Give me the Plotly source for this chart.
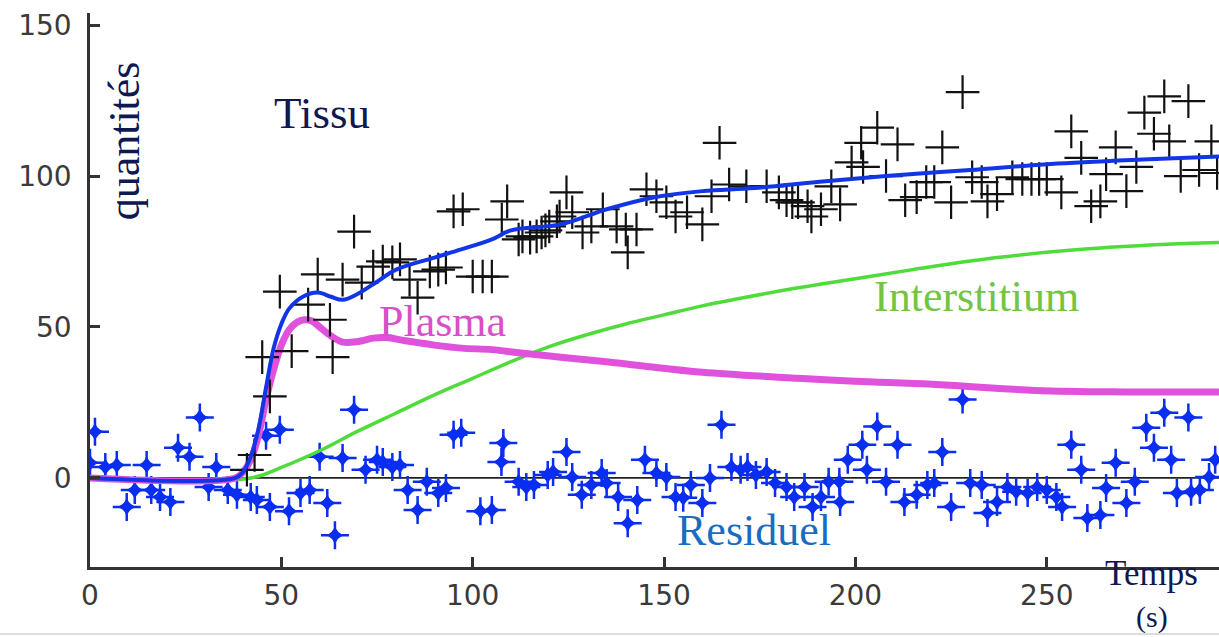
import plotly.graph_objects as go

# ---------------- data ----------------
# Tissu fit (blue curve)
fit_t = [0, 38, 40, 42, 44, 46, 48, 50, 52, 55.6, 59.5, 63, 66, 70, 75, 80, 90, 97, 105, 110, 123, 135, 147.5, 160, 173.6, 190, 208, 230, 251, 275, 295]
fit_y = [0, 0, 2, 7, 16, 30, 43, 51, 56, 60, 61.4, 60, 59, 61, 65, 69, 73, 75.7, 79, 82, 84, 89, 93, 95, 96, 98, 100, 102, 104, 105.5, 106.5]

# Plasma (magenta curve)
plasma_t = [0, 38, 40, 42, 44, 46, 48, 50, 52, 54, 56, 58, 60, 63, 66, 70, 74, 77.5, 82, 90, 97, 105, 112, 123, 135, 145, 160, 185, 200, 220, 247, 270, 295]
plasma_y = [0, 0, 2, 6, 14, 26, 36, 44, 49, 51.5, 52.4, 52, 50, 47, 45, 45.2, 46.3, 46.5, 45.5, 44, 43, 42.5, 41.5, 40, 38.5, 37, 35, 33, 32, 31, 29, 28.5, 28.5]

# Interstitium (green curve)
inter_t = [0, 42, 50, 60, 70, 80, 90, 100, 110, 120, 130, 140, 150, 160, 170, 185, 200, 215, 237, 260, 280, 295]
inter_y = [0, 0, 3.5, 9, 15.5, 21.5, 27.5, 33, 38.5, 43.5, 47.5, 51, 54, 57, 59.5, 63, 66, 69, 73, 75.8, 77.3, 78]

# Tissu measurements (black crosses)
tissu_t = [41, 43, 45, 47, 49.6, 52.7, 57, 59.5, 62.7, 63.4, 66, 69, 71, 74, 76.5, 79, 81, 83.5, 85.6,
           88.8, 91, 93, 95, 97.4, 100, 102.6, 105, 107.6, 109, 112, 113, 115, 116.7, 118, 119, 120,
           122, 122.7, 124.5, 126, 128.7, 131, 134, 137.6, 140, 140.5, 142.8, 145.4, 148, 150.6, 153,
           156, 160, 162.4, 164.5, 167, 171.5, 176.8, 180, 182, 183.5, 185, 187.5, 188.5, 191, 193.7,
           196, 199, 201.5, 202, 205.7, 208, 211, 213, 216, 218.5, 220.6, 222.7, 225, 228, 230.5, 233,
           234.5, 237, 241, 243.6, 246, 248, 250, 253.8, 256.4, 259, 261.6, 264, 265.5, 268, 270.8,
           273.4, 275.5, 278, 280.7, 282, 285, 287, 289.8, 293, 294.5]
tissu_y = [2.7, 7.6, 40, 27, 61.7, 42, 57.4, 67.4, 52.4, 40, 65.7, 81.6, 64.7, 70, 71.7, 71.4, 72.4, 65.7, 59.7,
           68.4, 69, 69.7, 88.3, 89, 66.7, 66.7, 66.7, 85.6, 91.6, 79, 80, 79.6, 80, 81.3, 82, 83.3,
           85, 86.6, 94.6, 88, 81.3, 83.3, 89, 83.3, 82.3, 74.7, 82.3, 95.6, 93.3, 91.3, 86.6,
           88, 84, 93.3, 111, 97.2, 96.6, 96.6, 94.6, 92, 91.3, 91.3, 90, 86.6, 89, 96.6,
           90.6, 104.5, 111, 103, 116, 100, 110.5, 92, 93, 98, 98, 109.5, 91.3, 127.8, 99.6, 98,
           91.6, 94, 99.6, 99, 99, 99, 99, 94.6, 114.8, 106, 90, 91.6, 100.6, 109.5, 95,
           103, 121, 114, 126.4, 111.5, 100, 124.8, 102, 111.5, 101]

# Residuel (blue stars)
res_t = [0, 1.3, 4, 7, 9.6, 11.7, 14.8, 16, 18.3, 21, 23, 26, 28.7, 31, 33, 36, 38.4, 42, 43.6, 46, 47,
         49.6, 52, 55, 57.4, 60, 62, 64, 66, 69, 72, 75, 76.5, 79, 81, 83, 85.6, 88, 91, 93, 95, 97,
         102, 105, 107.5, 108, 112, 114, 116, 119.6, 121, 124.5, 126, 128.5, 131, 133.7, 135, 138,
         140.5, 143, 145, 148, 150.6, 153, 155, 157, 160, 162, 165, 167.6, 170, 171.8, 174, 176.8,
         179, 182, 184, 186.7, 188.8, 191, 193, 195.8, 196, 198, 201.8, 203, 205.7, 208, 211, 212.8,
         216, 218.8, 220.6, 222.7, 225, 228, 230, 233, 234.5, 237, 239.7, 242, 245, 247.5, 250,
         252.5, 254, 256.4, 259, 260.6, 264, 265.5, 268, 270.8, 273, 276, 278, 280.7, 282.5, 284,
         287, 287.7, 290, 292.4, 294]
res_y = [5, 15.3, 3.6, 4.3, -9.6, -4, 4.3, -4, -6.3, -8, 10, 7, 20, -3, 3.6, -4, -5.6, -6.3, -7.3, 14, -9.6,
         16, -11, -5, -4, 7, -8.3, -19, 6.6, 22.6, 2.7, 6, 5.3, 3.6, 4.3, -4, -10.6, -1.3, -5, -3.3, 14.3, 15,
         -11, -10.6, 5.3, 11.6, -1.3, -3, -2.3, 1, 2, 8.6, 0.3, -5.6, -2.3, 1.6, -1.7, -6.3,
         -15, -7.3, 6, 1.6, 0.3, -6.3, -6.6, -2.3, -8.3, 0, 17.6, 3.6, 2.7, 3.6, 1, 2,
         -1.7, -3, -6.3, -3, -9.6, -6.3, -1.3, -1.3, -8, 6, 11, 2.7, 17, -1.3, 11, -8,
         -5.6, -2.3, -1.7, 8.6, -9.6, 26, -1.7, -2.3, -11.6, -8, -3, -4.6, -5, -3, -4,
         -6.3, -9.6, 11, 2.7, -13.3, -12.3, -3.3, 5, -8.3, -1.3, 16.6, 10, 21.6, 6, -5,
         20, -4.6, -4, 0.3, 6]

zero_t = [0, 295]
zero_y = [0, 0]

x_ticks = [0, 50, 100, 150, 200, 250]
y_ticks = [0, 50, 100, 150]

NAVY = "#0f1850"
SERIF = "Liberation Serif, Times New Roman, serif"
BLUE_STAR = "#0a2ef0"

fig = go.Figure()

fig.add_trace(go.Scatter(x=zero_t, y=zero_y, mode="lines",
                         line=dict(color="#222222", width=1.8), hoverinfo="skip"))
fig.add_trace(go.Scatter(x=res_t, y=res_y, mode="markers",
                         marker=dict(symbol="star-diamond", size=14, color=BLUE_STAR,
                                     line=dict(width=0))))
fig.add_trace(go.Scatter(x=res_t, y=res_y, mode="markers",
                         marker=dict(symbol="cross-thin-open", size=20, color=BLUE_STAR,
                                     line=dict(color=BLUE_STAR, width=2.5))))
fig.add_trace(go.Scatter(x=inter_t, y=inter_y, mode="lines", line_shape="spline",
                         line=dict(color="#4fdc3a", width=3.5)))
fig.add_trace(go.Scatter(x=plasma_t, y=plasma_y, mode="lines", line_shape="spline",
                         line=dict(color="#e052dc", width=7)))
fig.add_trace(go.Scatter(x=tissu_t, y=tissu_y, mode="markers",
                         marker=dict(symbol="cross-thin-open", size=24, color="#111111",
                                     line=dict(color="#111111", width=2.2))))
fig.add_trace(go.Scatter(x=fit_t, y=fit_y, mode="lines", line_shape="spline",
                         line=dict(color="#1236e6", width=4)))

tickfont = dict(family="DejaVu Sans, sans-serif", size=28, color="#3a3a3a")

fig.update_xaxes(range=[0, 295], tickvals=x_ticks, ticks="inside", ticklen=10, tickwidth=2.5,
                 tickcolor="#333", showline=True, linecolor="#333", linewidth=2.5,
                 showgrid=False, zeroline=False, tickfont=tickfont, ticklabelstandoff=2,
                 automargin=False)
fig.update_yaxes(range=[-29.5, 154], tickvals=y_ticks, ticks="inside", ticklen=10, tickwidth=2.5,
                 tickcolor="#333", showline=True, linecolor="#333", linewidth=2.5,
                 showgrid=False, zeroline=False, tickfont=tickfont, ticklabelstandoff=10,
                 automargin=False)

ann = [
    dict(text="Tissu", x=60.6, y=120.8, color=NAVY, size=45, angle=0),
    dict(text="quantités", x=8.9, y=111.5, color=NAVY, size=44, angle=-90),
    dict(text="Plasma", x=92.2, y=51.8, color="#d84fc8", size=44, angle=0),
    dict(text="Interstitium", x=231.6, y=60, color="#72c443", size=44, angle=0),
    dict(text="Residuel", x=173.6, y=-17.3, color="#1a6cc0", size=44, angle=0),
]
for a in ann:
    fig.add_annotation(text=a["text"], x=a["x"], y=a["y"], xref="x", yref="y",
                       showarrow=False, textangle=a["angle"],
                       font=dict(family=SERIF, size=a["size"], color=a["color"]),
                       xanchor="center", yanchor="middle")

# axis title pieces in paper coordinates (outside the data range)
fig.add_annotation(text="Temps", x=0.9398, y=-0.012, xref="paper", yref="paper",
                   showarrow=False, font=dict(family=SERIF, size=35, color=NAVY),
                   xanchor="center", yanchor="middle")
fig.add_annotation(text="(s)", x=0.9407, y=-0.09, xref="paper", yref="paper",
                   showarrow=False, font=dict(family=SERIF, size=30, color=NAVY),
                   xanchor="center", yanchor="middle")

fig.add_shape(type="line", xref="paper", yref="paper", x0=-0.08, x1=1.0, y0=-0.121, y1=-0.121,
              line=dict(color="#dddddd", width=2))

fig.update_layout(width=1219, height=637, showlegend=False,
                  margin=dict(l=90, r=0, t=13, b=70),
                  paper_bgcolor="white", plot_bgcolor="white")

fig.write_html("out.html", config={"displayModeBar": False},
               post_script="document.body.style.margin='0';document.body.style.overflow='hidden';")
